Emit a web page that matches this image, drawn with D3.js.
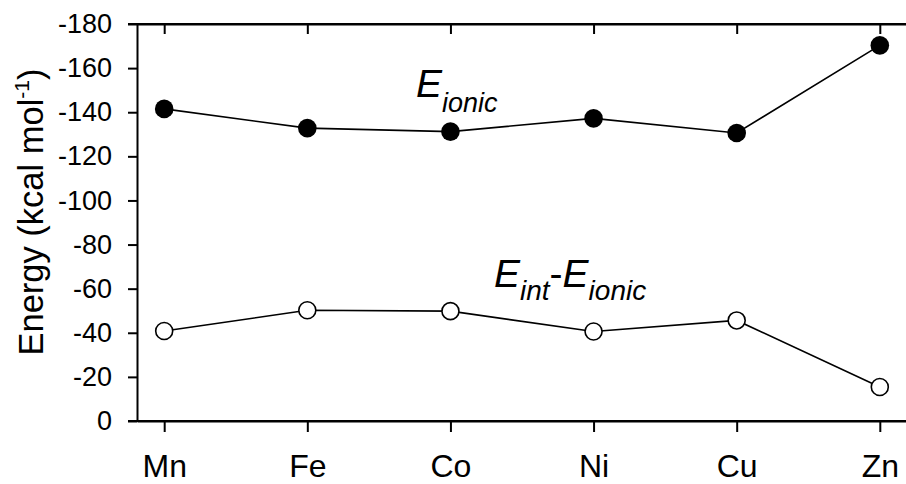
<!DOCTYPE html>
<html lang="en">
<head>
    <meta charset="UTF-8">
    <script src="https://d3js.org/d3.v7.min.js"></script>
    <title>Energy decomposition</title>
    <style>
        body { margin: 0; background: #fff; }
        text { font-family: "Liberation Sans", Arial, sans-serif; }
    </style>
</head>
<body>
    <div id="chart"></div>
    <script>
        const metals = ["Mn", "Fe", "Co", "Ni", "Cu", "Zn"];
        const eIonic = [-141.5, -132.8, -131.2, -137.2, -130.6, -170.3];
        const eIntMinusIonic = [-40.8, -50.2, -49.8, -40.6, -45.6, -15.4];
        const yTicks = [0, -20, -40, -60, -80, -100, -120, -140, -160, -180];

        const width = 906, height = 484;
        const margin = { top: 24, right: 0, bottom: 63, left: 137 };

        const svg = d3.select("#chart").append("svg")
            .attr("width", width)
            .attr("height", height);

        const x = d3.scalePoint()
            .domain(metals)
            .range([margin.left, width + 1])
            .padding(0.19);

        const y = d3.scaleLinear()
            .domain([0, -180])
            .range([height - margin.bottom, margin.top]);

        const fmt = d => d === 0 ? "0" : "-" + Math.abs(d);

        // left axis
        const yAxis = svg.append("g")
            .attr("transform", `translate(${margin.left},0)`)
            .call(d3.axisLeft(y).tickValues(yTicks).tickFormat(fmt).tickSize(9).tickPadding(16).tickSizeOuter(0));
        yAxis.select(".domain").attr("stroke-width", 2);
        yAxis.selectAll(".tick line").attr("stroke-width", 2);
        yAxis.selectAll("text").attr("font-size", "27px").attr("fill", "#000");

        // bottom axis
        const xAxis = svg.append("g")
            .attr("transform", `translate(0,${y(0)})`)
            .call(d3.axisBottom(x).tickSize(11).tickPadding(22).tickSizeOuter(0));
        xAxis.select(".domain").attr("stroke-width", 2);
        xAxis.selectAll(".tick line").attr("stroke-width", 2);
        xAxis.selectAll("text").attr("font-size", "32px").attr("fill", "#000");

        // top axis (ticks inward)
        const xTop = svg.append("g")
            .attr("transform", `translate(0,${y(-180)})`)
            .call(d3.axisBottom(x).tickSize(10).tickFormat("").tickSizeOuter(0));
        xTop.select(".domain").attr("stroke-width", 2);
        xTop.selectAll(".tick line").attr("stroke-width", 2);

        // extend frame lines to the left to meet outer ticks
        [y(0), y(-180)].forEach(yy => {
            svg.append("line")
                .attr("x1", margin.left - 9).attr("x2", width)
                .attr("y1", yy).attr("y2", yy)
                .attr("stroke", "#000").attr("stroke-width", 2);
        });

        const line = d3.line()
            .x((d, i) => x(metals[i]))
            .y(d => y(d));

        svg.append("path")
            .datum(eIonic)
            .attr("d", line)
            .attr("fill", "none")
            .attr("stroke", "#000")
            .attr("stroke-width", 1.6);

        svg.append("path")
            .datum(eIntMinusIonic)
            .attr("d", line)
            .attr("fill", "none")
            .attr("stroke", "#000")
            .attr("stroke-width", 1.6);

        svg.selectAll(".ionic")
            .data(eIonic)
            .enter()
            .append("circle")
            .attr("cx", (d, i) => x(metals[i]))
            .attr("cy", d => y(d))
            .attr("r", 9.3)
            .attr("fill", "#000");

        svg.selectAll(".diff")
            .data(eIntMinusIonic)
            .enter()
            .append("circle")
            .attr("cx", (d, i) => x(metals[i]))
            .attr("cy", d => y(d))
            .attr("r", 8.5)
            .attr("fill", "#fff")
            .attr("stroke", "#000")
            .attr("stroke-width", 1.6);

        // y label
        const yLabel = svg.append("text")
            .attr("transform", "translate(43,212) rotate(-90)")
            .attr("text-anchor", "middle")
            .attr("font-size", "34.5px")
            .attr("fill", "#000");
        yLabel.append("tspan").text("Energy (kcal mol");
        yLabel.append("tspan").attr("font-size", "21px").attr("dy", -14).text("-1");
        yLabel.append("tspan").attr("dy", 14).text(")");

        // annotations
        const a1 = svg.append("text")
            .attr("x", 416).attr("y", 97)
            .attr("font-size", "39px")
            .attr("font-style", "italic")
            .attr("fill", "#000");
        a1.append("tspan").text("E");
        a1.append("tspan").attr("font-size", "27px").attr("dy", 15).text("ionic");

        const a2 = svg.append("text")
            .attr("x", 494).attr("y", 287)
            .attr("font-size", "39px")
            .attr("font-style", "italic")
            .attr("fill", "#000");
        a2.append("tspan").text("E");
        a2.append("tspan").attr("font-size", "28px").attr("dy", 13).text("int");
        a2.append("tspan").attr("dy", -13).attr("font-style", "normal").text("-");
        a2.append("tspan").text("E");
        a2.append("tspan").attr("font-size", "28px").attr("dy", 13).text("ionic");
    </script>
</body>
</html>
